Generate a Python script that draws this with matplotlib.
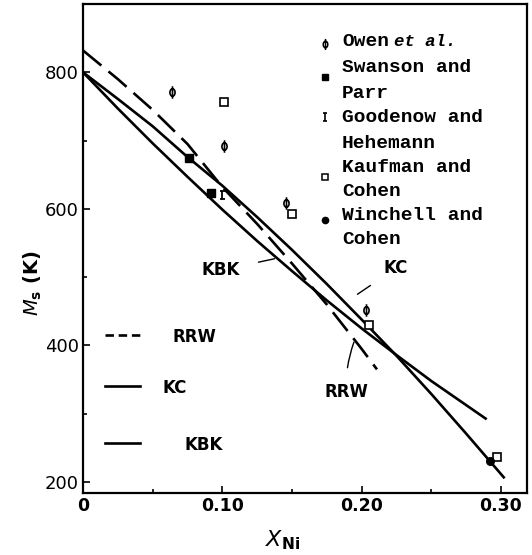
import matplotlib
matplotlib.use("Agg")
import matplotlib.pyplot as plt
from matplotlib.ticker import FixedLocator
from matplotlib.path import Path
from matplotlib.transforms import Affine2D

# model curves
rrw_x = [0.0, 0.025, 0.05, 0.075, 0.10, 0.125, 0.15, 0.175, 0.20, 0.211]
rrw_y = [832, 790, 745, 695, 632, 578, 520, 460, 395, 365]

kc_x = [0.0, 0.025, 0.05, 0.075, 0.10, 0.125, 0.15, 0.175, 0.20, 0.225, 0.25, 0.275, 0.302]
kc_y = [800, 761, 721, 676, 634, 588, 540, 490, 438, 385, 329, 271, 207]

kbk_x = [0.0, 0.025, 0.05, 0.075, 0.10, 0.125, 0.15, 0.175, 0.20, 0.225, 0.25, 0.289]
kbk_y = [800, 747, 696, 647, 599, 553, 509, 466, 425, 386, 348, 293]

# experimental points
owen_x = [0.064, 0.101, 0.146, 0.203]
owen_y = [771, 692, 608, 452]
swanson_x = [0.076, 0.092]
swanson_y = [674, 623]
goodenow_x = [0.100]
goodenow_y = [620]
kaufman_x = [0.101, 0.150, 0.205, 0.297]
kaufman_y = [756, 592, 430, 237]
winchell_x = [0.292]
winchell_y = [231]

# marker shapes: circle with a vertical bar (phi) and a serif I
ring = Affine2D().scale(0.7, 1.0).transform_path(Path.unit_circle())
bar = Path([[0, -1.7], [0, 1.7]], [Path.MOVETO, Path.LINETO])
phi_mark = Path.make_compound_path(ring, bar)
i_mark = Path([[-0.6, 1], [0.6, 1], [0, 1], [0, -1], [-0.6, -1], [0.6, -1]],
              [Path.MOVETO, Path.LINETO, Path.MOVETO, Path.LINETO, Path.MOVETO, Path.LINETO])

W, H = 532, 555
fig = plt.figure(figsize=(W / 100, H / 100), dpi=100)
ax = fig.add_axes([83 / W, 1 - 493 / H, (527 - 83) / W, (493 - 4) / H])

def fx(px):
    return px / W

def fy(py):
    return 1 - py / H

lw = 1.9
ax.plot(rrw_x, rrw_y, color="black", lw=lw, dashes=(9, 3.5))
ax.plot(kc_x, kc_y, color="black", lw=lw)
ax.plot(kbk_x, kbk_y, color="black", lw=lw)

ax.plot(owen_x, owen_y, ls="none", marker=phi_mark, ms=9, mfc="none", mec="black", mew=1.2)
ax.plot(swanson_x, swanson_y, ls="none", marker="s", ms=5.5, color="black")
ax.plot(goodenow_x, goodenow_y, ls="none", marker=i_mark, ms=6, mfc="none", mec="black", mew=1.3)
ax.plot(kaufman_x, kaufman_y, ls="none", marker="s", ms=5.5, mfc="white", mec="black", mew=1.2)
ax.plot(winchell_x, winchell_y, ls="none", marker="o", ms=5.5, color="black")

ax.set_xlim(0, 0.3187)
ax.set_ylim(184, 900)
ax.xaxis.set_major_locator(FixedLocator([0, 0.1, 0.2, 0.3]))
ax.xaxis.set_minor_locator(FixedLocator([0.05, 0.15, 0.25]))
ax.set_xticklabels(["0", "0.10", "0.20", "0.30"], fontsize=12.5, fontweight="bold")
ax.yaxis.set_major_locator(FixedLocator([200, 400, 600, 800]))
ax.yaxis.set_minor_locator(FixedLocator([300, 500, 700]))
ax.set_yticklabels(["200", "400", "600", "800"], fontsize=13)
ax.tick_params(which="both", direction="in", width=1.2)
ax.tick_params(which="major", length=5, pad=3)
ax.tick_params(which="minor", length=3)
for s in ax.spines.values():
    s.set_linewidth(1.6)

fig.text(fx(33), fy(283), "$\\mathbf{\\mathit{M}_s}$ (K)", rotation=90, ha="center",
         va="center", fontsize=14, fontweight="bold")
fig.text(fx(283), fy(540), "$\\mathit{X}_{\\mathbf{Ni}}$", ha="center", va="center", fontsize=16)

# annotations for curves
lab = dict(fontsize=12, fontweight="bold", ha="center", va="center")
ax.annotate("KBK", xy=(0.1375, 527), xytext=(0.0985, 510),
            arrowprops=dict(arrowstyle="-", lw=1, color="black", shrinkB=0, shrinkA=12), **lab)
ax.annotate("KC", xy=(0.197, 475), xytext=(0.2245, 513),
            arrowprops=dict(arrowstyle="-", lw=1, color="black", shrinkB=0, shrinkA=9), **lab)
ax.annotate("RRW", xy=(0.1945, 405), xytext=(0.189, 332),
            arrowprops=dict(arrowstyle="-", lw=1, color="black", shrinkB=0, shrinkA=9,
                            connectionstyle="arc3,rad=-0.1"), **lab)

# bottom-left key
key = [("RRW", 335, (9, 3.5), 172), ("KC", 386, None, 163), ("KBK", 443, None, 185)]
for name, py, dsh, tx in key:
    kw = dict(color="black", lw=lw, transform=fig.transFigure)
    if dsh:
        kw["dashes"] = (3.2, 1.8)
    ax.plot([fx(105), fx(140)], [fy(py), fy(py)], clip_on=False, **kw)
    fig.text(fx(tx), fy(py + 2), name, fontsize=12, fontweight="bold", ha="left", va="center")

# top-right key
mono = dict(family="Liberation Mono", fontsize=14, fontweight="bold", ha="left", va="center")
rows = [("Owen", 42), ("Swanson and", 68), ("Parr", 93), ("Goodenow and", 118),
        ("Hehemann", 143), ("Kaufman and", 167), ("Cohen", 192), ("Winchell and", 215),
        ("Cohen", 240)]
for txt, py in rows:
    fig.text(fx(342), fy(py), txt, **mono)
fig.text(fx(394), fy(42), "et al.", family="Liberation Mono", fontsize=12.5,
         fontweight="bold", style="italic", ha="left", va="center")

mk = dict(transform=fig.transFigure, clip_on=False, ls="none")
ax.plot([fx(325)], [fy(44)], marker=phi_mark, ms=8, mfc="none", mec="black", mew=1.1, **mk)
ax.plot([fx(325)], [fy(77)], marker="s", ms=4.5, color="black", **mk)
ax.plot([fx(325)], [fy(117)], marker=i_mark, ms=5.5, mfc="none", mec="black", mew=1.2, **mk)
ax.plot([fx(325)], [fy(177)], marker="s", ms=4.5, mfc="white", mec="black", mew=1.1, **mk)
ax.plot([fx(325)], [fy(220)], marker="o", ms=4.5, color="black", **mk)

fig.savefig("out.png", dpi=100)
